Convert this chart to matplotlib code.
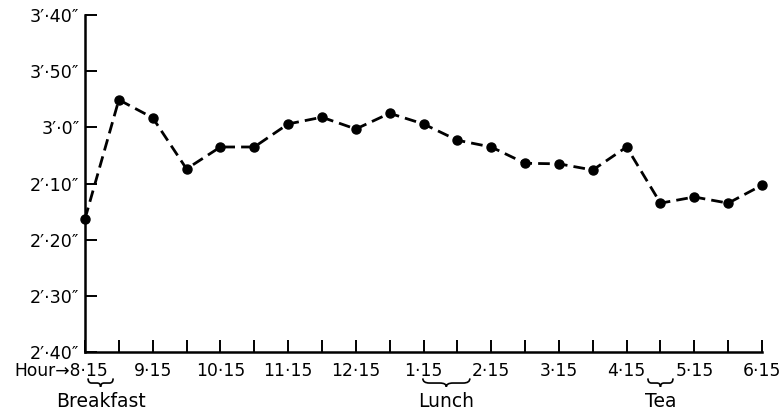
import matplotlib
matplotlib.use("Agg")
import matplotlib.pyplot as plt
from matplotlib.path import Path
from matplotlib.patches import PathPatch

# Readings taken every half hour from 8·15 to 6·15
slots = list(range(21))
values = [2.37, 4.49, 4.17, 3.26, 3.65, 3.65, 4.06, 4.18, 3.97, 4.25,
          4.06, 3.77, 3.65, 3.36, 3.35, 3.24, 3.65, 2.65, 2.76, 2.65, 2.97]

y_tick_labels = ["2\u2032\u00b740\u2033", "2\u2032\u00b730\u2033", "2\u2032\u00b720\u2033",
                 "2\u2032\u00b710\u2033", "3\u2032\u00b70\u2033", "3\u2032\u00b750\u2033",
                 "3\u2032\u00b740\u2033"]
hour_labels = ["8\u00b715", "9\u00b715", "10\u00b715", "11\u00b715", "12\u00b715",
               "1\u00b715", "2\u00b715", "3\u00b715", "4\u00b715", "5\u00b715", "6\u00b715"]

# Meal intervals, in half-hour slots, with their names
meals = ["Breakfast", "Lunch", "Tea"]
meal_spans = [(0.09, 0.83), (9.98, 11.37), (16.63, 17.37)]

plt.rcParams["font.family"] = ["DejaVu Sans"]
FS = 12.3
FS_Y = 12.6
FS_NOTE = 13.5

fig = plt.figure(figsize=(7.82, 4.12), dpi=100)
ax = fig.add_axes([85 / 782, 60 / 412, 677 / 782, 337 / 412])

ax.plot(slots, values, color="black", lw=2.0, ls=(0, (4.2, 2.2)),
        marker="o", ms=6.5, mfc="black", mec="black", clip_on=False, zorder=3)

ax.set_xlim(0, 20)
ax.set_ylim(0, 6)
for s in ("top", "right"):
    ax.spines[s].set_visible(False)
for s in ("left", "bottom"):
    ax.spines[s].set_linewidth(1.8)

ax.set_yticks(range(7))
ax.set_yticklabels(y_tick_labels, fontsize=FS_Y)
ax.set_xticks(range(21))
ax.set_xticklabels(["" if i == 0 else (hour_labels[i // 2] if i % 2 == 0 else "")
                    for i in range(21)], fontsize=FS)
ax.tick_params(axis="both", direction="in", length=8.5, width=1.4, color="black")
ax.tick_params(axis="x", pad=7)
ax.tick_params(axis="y", pad=4)

# First hour label carries the axis caption
ax.annotate("Hour\u2192" + hour_labels[0], xy=(0, 0), xycoords="data",
            xytext=(17, -7.5), textcoords="offset points", ha="right", va="top",
            fontsize=FS, annotation_clip=False)

def brace(x0, x1, ytop, ybot):
    e = 0.14 * (x1 - x0)
    xm = (x0 + x1) / 2
    ymid = ytop - 0.55 * (ytop - ybot)
    verts = [(x0, ytop), (x0, ymid), (x0 + e, ymid),
             (xm - e, ymid), (xm, ymid), (xm, ybot),
             (xm, ymid), (xm + e, ymid),
             (x1 - e, ymid), (x1, ymid), (x1, ytop)]
    codes = [Path.MOVETO, Path.CURVE3, Path.CURVE3,
             Path.LINETO, Path.CURVE3, Path.CURVE3,
             Path.CURVE3, Path.CURVE3,
             Path.LINETO, Path.CURVE3, Path.CURVE3]
    patch = PathPatch(Path(verts, codes), fill=False, lw=1.2, ec="black",
                      clip_on=False)
    ax.add_patch(patch)
    return xm

for name, (a, b) in zip(meals, meal_spans):
    xm = brace(a, b, -0.47, -0.62)
    ax.text(xm, -0.89, name, ha="center", va="center", fontsize=FS_NOTE, clip_on=False)

fig.savefig("out.png", dpi=100, facecolor="white")
